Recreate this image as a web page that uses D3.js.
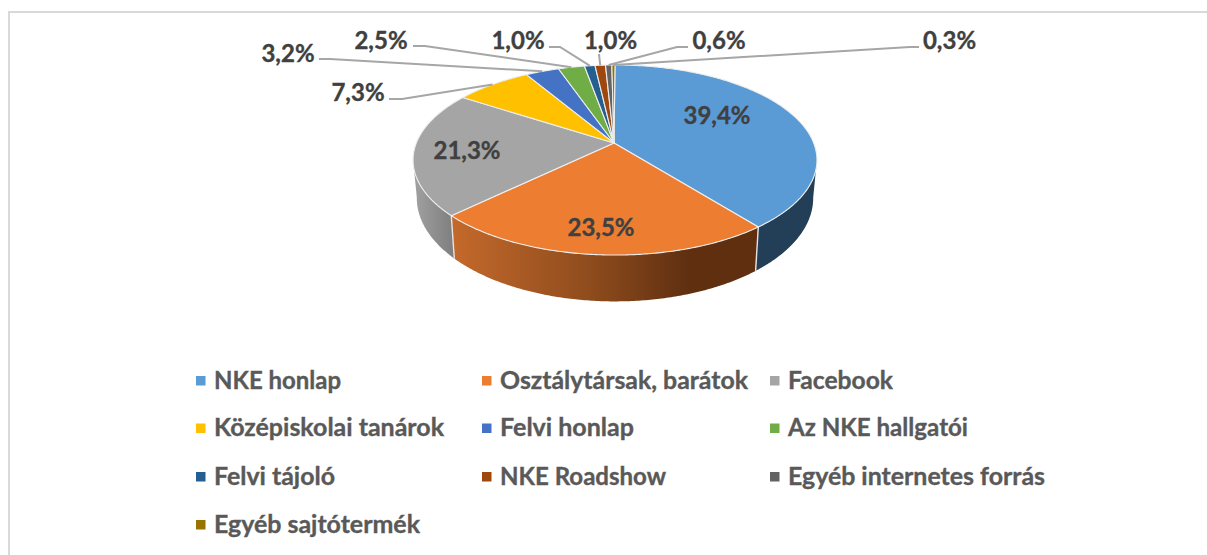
<!DOCTYPE html>
<html><head><meta charset="utf-8">
<script src="https://cdn.jsdelivr.net/npm/d3@7"></script>
<style>
html,body{margin:0;padding:0;background:#fff;overflow:hidden}
text{font-family:Lato,"Open Sans",sans-serif;font-weight:700}
</style></head><body>
<script>
// Data
const categories = ["NKE honlap","Osztálytársak, barátok","Facebook","Középiskolai tanárok","Felvi honlap","Az NKE hallgatói","Felvi tájoló","NKE Roadshow","Egyéb internetes forrás","Egyéb sajtótermék"];
const values = [39.4,23.5,21.3,7.3,3.2,2.5,1.0,1.0,0.6,0.3];
const valueLabels = ["39,4%","23,5%","21,3%","7,3%","3,2%","2,5%","1,0%","1,0%","0,6%","0,3%"];
const colors = ["#5B9BD5","#ED7D31","#A5A5A5","#FFC000","#4472C4","#70AD47","#255E91","#9E480E","#636363","#997300"];

// Layout (label anchors, leader elbows, legend text extents)
const labelCentres = [[717,114],[601,226],[467,149],[358,91],[288,52],[381,39],[518,39],[610.5,39],[719,39],[949.5,39]];
const elbows = [null,null,null,[[389,99],[402,99]],[[319,59],[330,59]],[[413,46],[425,46]],[[549,47],[560,47]],[[599,54]],[[688,47],[677,47]],[[919,47],[910,47]]];
const legendCols = [196,482,770], legendRows = [381,428.5,477,525];
const legendTextWidths = [127,248,105,230,134,180,121,166,257,206];

const W=1207,H=555;
const svg=d3.select("body").append("svg").attr("width",W).attr("height",H).style("display","block");

// Chart frame
svg.append("path").attr("d",`M${W},12H9V${H}`).attr("fill","none").attr("stroke","#d9d9d9").attr("stroke-width",2);

// Projection of a unit circle onto the tilted disc
const tilt=0.179, cx=615, rxTop=198.7, rxBase=195;
const top3d=a=>{const u=Math.sin(a),v=-Math.cos(a),w=1-tilt*v;return [cx+rxTop*u/w,143+92*v/w];};
const base3d=a=>{const u=Math.sin(a),v=-Math.cos(a),w=1-tilt*v;return [cx+rxBase*u/w,179.6+100*v/w];};
const rim=(f,a0,a1)=>{const n=Math.max(2,Math.ceil(Math.abs(a1-a0)/0.01));return d3.range(n+1).map(i=>f(a0+(a1-a0)*i/n));};
const line=d3.line();

const arcs=d3.pie().sort(null).value(d=>d)(values);

// Gradients for the visible wall
const defs=svg.append("defs");
const grad=(id,x1,x2,stops)=>{const g=defs.append("linearGradient").attr("id",id).attr("gradientUnits","userSpaceOnUse").attr("x1",x1).attr("x2",x2).attr("y1",0).attr("y2",0);
  stops.forEach(s=>g.append("stop").attr("offset",s[0]).attr("stop-color",s[1]));};
grad("wall1",452,757,[[0,"#c4692b"],[0.45,"#8f4c1d"],[0.78,"#5f2f10"],[1,"#5f2f10"]]);
grad("wall2",413,456,[[0,"#a2a2a2"],[1,"#7c7c7c"]]);
const wallFill=["#233f58","url(#wall1)","url(#wall2)"];

const visL=100*Math.PI/180, visR=260*Math.PI/180;
const walls=svg.append("g");
arcs.forEach((d,i)=>{
  const a0=Math.max(d.startAngle,visL),a1=Math.min(d.endAngle,visR);
  if(a1<=a0) return;
  const pts=rim(top3d,a0,a1).concat(rim(base3d,a1,a0));
  walls.append("path").attr("d",line(pts)+"Z").attr("fill",wallFill[i]);
  // seam
  if(a0>visL) walls.append("path").attr("d",line([top3d(a0),base3d(a0)])).attr("stroke","#e4e4e4").attr("stroke-width",1.4).attr("fill","none");
});

// Top face
const apex=[614,143];
const topG=svg.append("g");
arcs.forEach((d,i)=>{
  topG.append("path").attr("d",line([apex].concat(rim(top3d,d.startAngle,d.endAngle)))+"Z")
    .attr("fill",colors[i]).attr("stroke","#eeeeee").attr("stroke-width",1.1).attr("stroke-linejoin","round");
});

// Leader lines
const leaders=svg.append("g");
arcs.forEach((d,i)=>{
  if(!elbows[i]) return;
  const mid=(d.startAngle+d.endAngle)/2;
  leaders.append("path").attr("d",line(elbows[i].concat([top3d(mid)])))
    .attr("fill","none").attr("stroke","#a6a6a6").attr("stroke-width",2);
});

// Data labels
svg.append("g").selectAll("text").data(valueLabels).join("text")
  .attr("x",(d,i)=>labelCentres[i][0]).attr("y",(d,i)=>labelCentres[i][1])
  .attr("text-anchor","middle").attr("dominant-baseline","central")
  .attr("font-size",24).attr("fill","#404040")
  .attr("stroke","#404040").attr("stroke-width",0.35).text(d=>d);

// Legend
const lg=svg.append("g").selectAll("g").data(categories).join("g")
  .attr("transform",(d,i)=>`translate(${legendCols[i%3]},${legendRows[Math.floor(i/3)]})`);
lg.append("rect").attr("x",0).attr("y",-5).attr("width",9.5).attr("height",9.5).attr("fill",(d,i)=>colors[i]);
lg.append("text").attr("x",18).attr("y",-2).attr("dominant-baseline","central")
  .attr("font-size",24).attr("fill","#595959")
  .attr("stroke","#595959").attr("stroke-width",0.35)
  .attr("textLength",(d,i)=>legendTextWidths[i]).attr("lengthAdjust","spacingAndGlyphs").text(d=>d);
</script>
</body></html>
